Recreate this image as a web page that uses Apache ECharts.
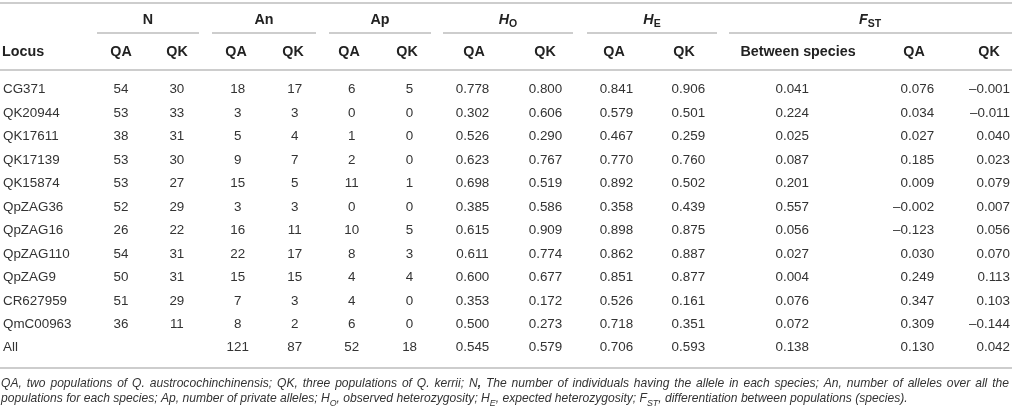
<!DOCTYPE html>
<html>
<head>
<meta charset="utf-8">
<script src="https://cdn.jsdelivr.net/npm/echarts@6/dist/echarts.min.js"></script>
<style>
html, body { margin: 0; padding: 0; background: #fff; }
#table { width: 1014px; height: 409px; }
</style>
</head>
<body>
<div id="table"></div>
<script>
// row labels (locus names)
var loci = ['CG371', 'QK20944', 'QK17611', 'QK17139', 'QK15874', 'QpZAG36', 'QpZAG16',
  'QpZAG110', 'QpZAG9', 'CR627959', 'QmC00963', 'All'];

// values per column, one entry per locus
var nQA = [54, 53, 38, 53, 53, 52, 26, 54, 50, 51, 36, null];
var nQK = [30, 33, 31, 30, 27, 29, 22, 31, 31, 29, 11, null];
var anQA = [18, 3, 5, 9, 15, 3, 16, 22, 15, 7, 8, 121];
var anQK = [17, 3, 4, 7, 5, 3, 11, 17, 15, 3, 2, 87];
var apQA = [6, 0, 1, 2, 11, 0, 10, 8, 4, 4, 6, 52];
var apQK = [5, 0, 0, 0, 1, 0, 5, 3, 4, 0, 0, 18];
var hoQA = [0.778, 0.302, 0.526, 0.623, 0.698, 0.385, 0.615, 0.611, 0.600, 0.353, 0.500, 0.545];
var hoQK = [0.800, 0.606, 0.290, 0.767, 0.519, 0.586, 0.909, 0.774, 0.677, 0.172, 0.273, 0.579];
var heQA = [0.841, 0.579, 0.467, 0.770, 0.892, 0.358, 0.898, 0.862, 0.851, 0.526, 0.718, 0.706];
var heQK = [0.906, 0.501, 0.259, 0.760, 0.502, 0.439, 0.875, 0.887, 0.877, 0.161, 0.351, 0.593];
var fstBetween = [0.041, 0.224, 0.025, 0.087, 0.201, 0.557, 0.056, 0.027, 0.004, 0.076, 0.072, 0.138];
var fstQA = [0.076, 0.034, 0.027, 0.185, 0.009, -0.002, -0.123, 0.030, 0.249, 0.347, 0.309, 0.130];
var fstQK = [-0.001, -0.011, 0.040, 0.023, 0.079, 0.007, 0.056, 0.070, 0.113, 0.103, -0.144, 0.042];

// header labels
var groupLabels = ['{b|N}', '{b|An}', '{b|Ap}', '{bi|H}{bs|O}', '{bi|H}{bs|E}', '{bi|F}{bs|ST}'];
var subLabels = ['QA', 'QK', 'QA', 'QK', 'QA', 'QK', 'QA', 'QK', 'QA', 'QK', 'Between species', 'QA', 'QK'];

// footnote: first line is justified word by word, second line uses rich text for subscripts
var footLine1 = 'QA, two populations of Q. austrocochinchinensis; QK, three populations of Q. kerrii; N, The number of individuals having the allele in each species; An, number of alleles over all the';
var footLine2 = '{i|populations for each species; Ap, number of private alleles; H}{s|O}{i|, observed heterozygosity; H}{s|E}{i|, expected heterozygosity; F}{s|ST}{i|, differentiation between populations (species).}';

// layout
var FONT = '"Liberation Sans", Arial, Helvetica, sans-serif';
var FOOT_SIZE = 12.1;
var columns = [
  { vals: nQA, dec: 0, x: 120, align: 'center' },
  { vals: nQK, dec: 0, x: 176, align: 'center' },
  { vals: anQA, dec: 0, x: 237, align: 'center' },
  { vals: anQK, dec: 0, x: 294, align: 'center' },
  { vals: apQA, dec: 0, x: 351, align: 'center' },
  { vals: apQK, dec: 0, x: 409, align: 'center' },
  { vals: hoQA, dec: 3, x: 472, align: 'center' },
  { vals: hoQK, dec: 3, x: 545, align: 'center' },
  { vals: heQA, dec: 3, x: 616, align: 'center' },
  { vals: heQK, dec: 3, x: 688, align: 'center' },
  { vals: fstBetween, dec: 3, x: 792, align: 'center' },
  { vals: fstQA, dec: 3, x: 934, align: 'right' },
  { vals: fstQK, dec: 3, x: 1010, align: 'right' }
];
var subX = [121, 177, 236, 293, 349, 407, 474, 545, 614, 684, 798, 914, 989];
var groupX = [148, 264, 380, 508, 652, 870];
var groupSpans = [[97, 199], [212, 316], [329, 431], [443, 573], [587, 717], [729, 1012]];

function fmt(v, dec) {
  if (v == null) return '';
  var s = Math.abs(v).toFixed(dec);
  return v < 0 ? '\u2013' + s : s;
}

var cells = [];
columns.forEach(function (col, c) {
  loci.forEach(function (name, r) {
    if (col.vals[r] != null) cells.push([c, r]);
  });
});

var graphics = [];
function rule(y, x1, x2) {
  graphics.push({ type: 'rect', shape: { x: x1, y: y, width: x2 - x1, height: 2 },
    style: { fill: '#cdcdcd' }, silent: true });
}
rule(2, 0, 1012);
rule(69, 0, 1012);
rule(367, 0, 1012);
groupSpans.forEach(function (s) { rule(32, s[0], s[1]); });

var headRich = {
  b: { fontFamily: FONT, fontWeight: 'bold', fontSize: 14.3, fill: '#222', lineHeight: 20 },
  bi: { fontFamily: FONT, fontWeight: 'bold', fontStyle: 'italic', fontSize: 14.3, fill: '#222', lineHeight: 20 },
  bs: { fontFamily: FONT, fontWeight: 'bold', fontSize: 10.5, fill: '#222', verticalAlign: 'bottom', lineHeight: 20 }
};
groupLabels.forEach(function (t, i) {
  graphics.push({ type: 'text', x: groupX[i], y: 20, silent: true,
    style: { text: t, rich: headRich, align: 'center', verticalAlign: 'middle',
      textAlign: 'center', textVerticalAlign: 'middle' } });
});
graphics.push({ type: 'text', x: 2, y: 52, silent: true,
  style: { text: 'Locus', font: 'bold 14.3px ' + FONT, fill: '#222', align: 'left', verticalAlign: 'middle',
    textAlign: 'left', textVerticalAlign: 'middle' } });
subLabels.forEach(function (t, i) {
  graphics.push({ type: 'text', x: subX[i], y: 52, silent: true,
    style: { text: t, font: 'bold 14.3px ' + FONT, fill: '#222', align: 'center', verticalAlign: 'middle',
      textAlign: 'center', textVerticalAlign: 'middle' } });
});

// justified first footnote line
var footFont = 'italic ' + FOOT_SIZE + 'px ' + FONT;
var ctx = document.createElement('canvas').getContext('2d');
ctx.font = footFont;
var words = footLine1.split(' ');
var widths = words.map(function (w) { return ctx.measureText(w).width; });
var total = widths.reduce(function (a, b) { return a + b; }, 0);
var gap = (1009 - 1 - total) / (words.length - 1);
var wx = 1;
var footRich = {
  i: { fontFamily: FONT, fontStyle: 'italic', fontSize: FOOT_SIZE, fill: '#333', lineHeight: 18 },
  b: { fontFamily: FONT, fontStyle: 'italic', fontWeight: 'bold', fontSize: FOOT_SIZE, fill: '#333', lineHeight: 18 },
  s: { fontFamily: FONT, fontStyle: 'italic', fontSize: 8.8, fill: '#333', verticalAlign: 'bottom', lineHeight: 18 }
};
words.forEach(function (w, i) {
  var t = w === 'N,' ? '{i|N}{b|,}' : '{i|' + w + '}';
  graphics.push({ type: 'text', x: wx, y: 384, silent: true,
    style: { text: t, rich: footRich, align: 'left', verticalAlign: 'middle',
      textAlign: 'left', textVerticalAlign: 'middle' } });
  wx += widths[i] + gap;
});
graphics.push({ type: 'text', x: 1, y: 399, silent: true,
  style: { text: footLine2, rich: footRich, align: 'left', verticalAlign: 'middle',
    textAlign: 'left', textVerticalAlign: 'middle' } });

var chart = echarts.init(document.getElementById('table'), null, { renderer: 'canvas' });
chart.setOption({
  animation: false,
  backgroundColor: '#fff',
  grid: { left: 0, right: 0, top: 78, height: 281.5, containLabel: false },
  xAxis: { type: 'value', min: 0, max: 1014, show: false },
  yAxis: {
    type: 'category',
    inverse: true,
    data: loci,
    axisLine: { show: false },
    axisTick: { show: false },
    splitLine: { show: false },
    axisLabel: { inside: true, margin: 2, color: '#333', fontFamily: FONT, fontSize: 13.4, align: 'left' }
  },
  graphic: graphics,
  series: [{
    type: 'custom',
    data: cells,
    renderItem: function (params, api) {
      var col = columns[api.value(0)];
      var r = api.value(1);
      var p = api.coord([col.x, r]);
      return {
        type: 'text',
        x: p[0], y: p[1],
        style: {
          text: fmt(col.vals[r], col.dec),
          font: '13.4px ' + FONT,
          fill: '#333',
          align: col.align, verticalAlign: 'middle',
          textAlign: col.align, textVerticalAlign: 'middle'
        }
      };
    }
  }]
});
</script>
</body>
</html>
